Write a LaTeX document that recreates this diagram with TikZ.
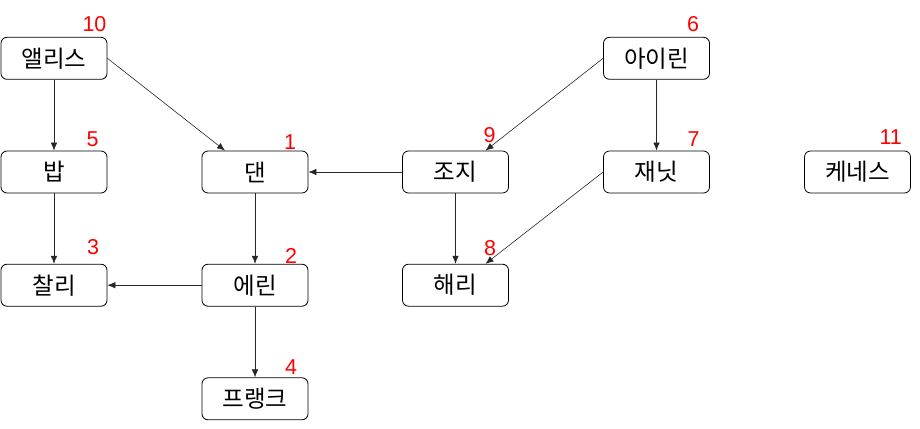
\documentclass[tikz,border=0pt]{standalone}
\usepackage{fontspec}
\setmainfont{Liberation Sans}
\newfontfamily\kr{Noto Sans CJK KR}
\usetikzlibrary{arrows.meta}
\begin{document}
\begin{tikzpicture}[x=1pt,y=-1pt,
  box/.style={draw=black, line width=0.8pt, rounded corners=6pt, minimum width=106pt, minimum height=42pt, inner sep=0pt, font=\kr\fontsize{23.5}{26}\selectfont},
  num/.style={text=red, inner sep=0pt, font=\fontsize{21.5}{24}\selectfont},
  edge/.style={draw=black!85, line width=0.6pt, -{Latex[length=8pt,width=6.5pt]}}]
\useasboundingbox (0,0) rectangle (920,428);
% nodes
\node[box] (alice) at (54,58.3) {앨리스};
\node[box] (irene) at (656.5,58.3) {아이린};
\node[box] (bob) at (54,172) {밥};
\node[box] (dan) at (255,172) {댄};
\node[box] (george) at (455.5,172) {조지};
\node[box] (janet) at (656.5,172) {재닛};
\node[box] (kenneth) at (857.5,172) {케네스};
\node[box] (charlie) at (54,285.2) {찰리};
\node[box] (erin) at (255,285.2) {에린};
\node[box] (harry) at (455.5,285.2) {해리};
\node[box] (frank) at (255,398.8) {프랭크};
% numbers
\node[num] (n10) at (94.5,24.5) {10};
\node[num] (n6) at (693,24.5) {6};
\node[num] (n5) at (92.5,139) {5};
\node[num] (n1) at (290,142) {1};
\node[num] (n9) at (489.5,134.7) {9};
\node[num] (n7) at (693.5,138.7) {7};
\node[num] (n11) at (890.7,137) {11};
\node[num] (n3) at (93,247) {3};
\node[num] (n2) at (291,255.5) {2};
\node[num] (n8) at (490,248.3) {8};
\node[num] (n4) at (291,367) {4};
% edges
\draw[edge] (alice.south) -- (bob.north);
\draw[edge] (alice.east) -- ([xshift=-30pt]dan.north);
\draw[edge] (irene.west) -- ([xshift=30pt]george.north);
\draw[edge] (irene.south) -- (janet.north);
\draw[edge] (george.west) -- (dan.east);
\draw[edge] (george.south) -- (harry.north);
\draw[edge] (janet.west) -- ([xshift=30pt]harry.north);
\draw[edge] (bob.south) -- (charlie.north);
\draw[edge] (dan.south) -- (erin.north);
\draw[edge] (erin.west) -- (charlie.east);
\draw[edge] (erin.south) -- (frank.north);
\end{tikzpicture}
\end{document}
